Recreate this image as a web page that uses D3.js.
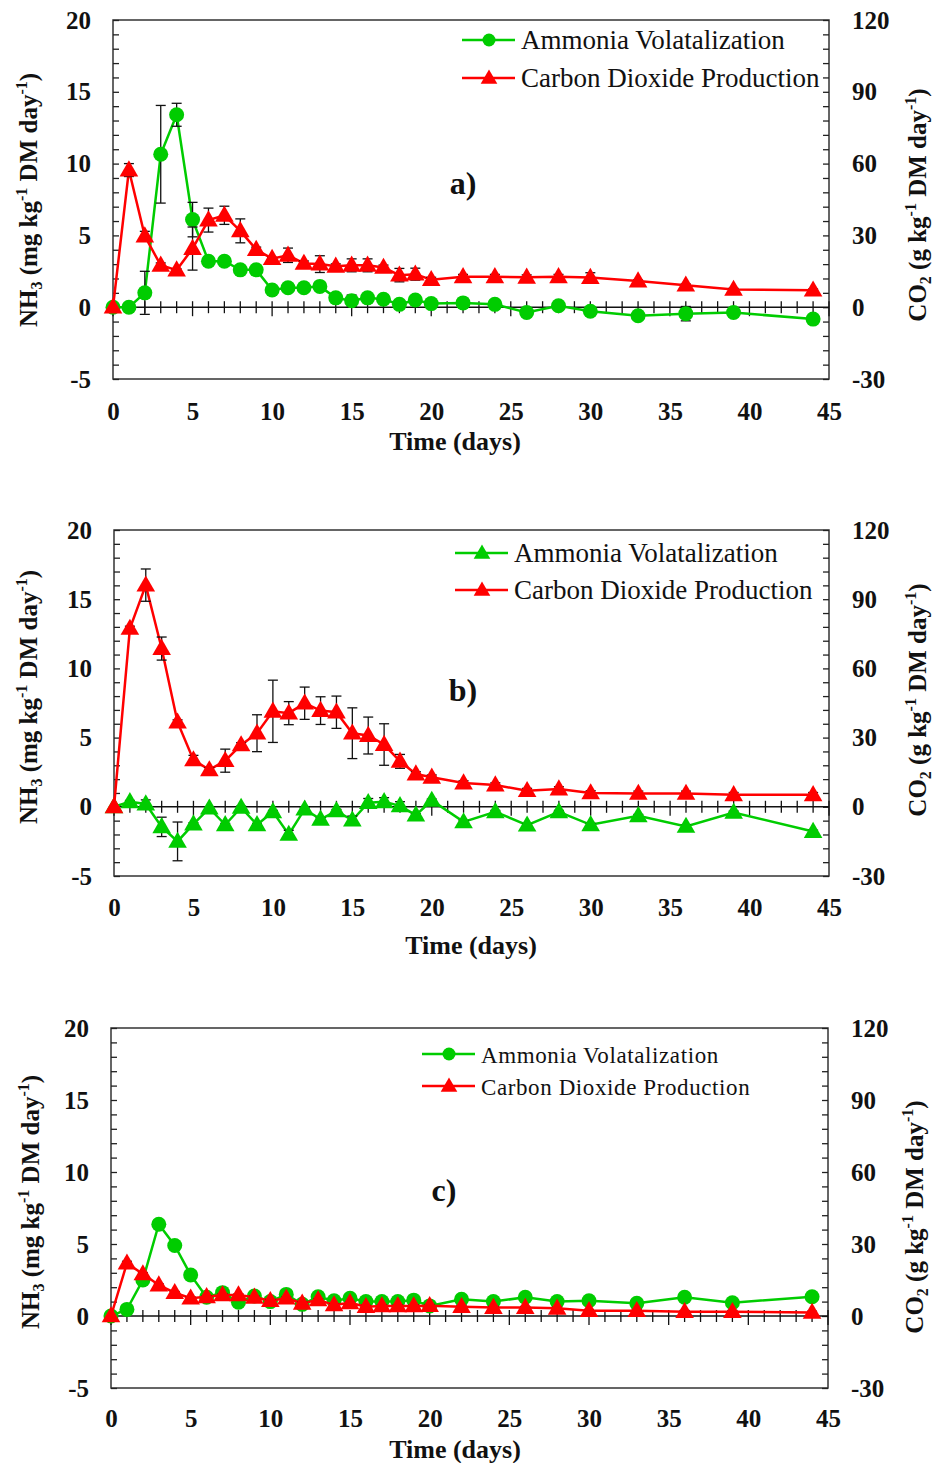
<!DOCTYPE html>
<html><head><meta charset="utf-8">
<script src="https://cdn.jsdelivr.net/npm/d3@7"></script>
<style>
body{margin:0;background:#fff;}
svg text{font-family:"Liberation Serif","Times New Roman",serif;}
</style></head>
<body><svg id="chart" width="936" height="1463"></svg>
<script>
const days = [0,1,2,3,4,5,6,7,8,9,10,11,12,13,14,15,16,17,18,19,20,22,24,26,28,30,33,36,39,44];
const xTicks = [0,5,10,15,20,25,30,35,40,45];
const leftTicks = [-5,0,5,10,15,20];
const rightTicks = [-30,0,30,60,90,120];

const aNH3 = [0,0,1.0,10.65,13.4,6.1,3.2,3.2,2.6,2.6,1.2,1.35,1.35,1.45,0.65,0.45,0.65,0.55,0.2,0.5,0.25,0.3,0.2,-0.37,0.1,-0.28,-0.6,-0.45,-0.37,-0.83];
const aNH3Err = [0,0,1.5,3.4,0.8,1.2,0.2,0.1,0.1,0.1,0.1,0.3,0.3,0.2,0.1,0.4,0.1,0.1,0.1,0.3,0.1,0.1,0.1,0.1,0.1,0.1,0.1,0.5,0.1,0.1];
const aCO2 = [0,57.3,29.7,17.5,15.5,24.5,36.4,38.4,31.9,24.1,20.3,21.7,18.3,18,17.1,17.5,17.5,16.6,13.4,13.8,11.5,12.7,12.7,12.5,12.7,12.4,10.9,9.2,7.4,7.1];
const aCO2Err = [0,2.7,2,1,0.5,9,5,3.8,5,1,0.5,3,1,3.5,1,2.7,2.7,1,2.8,2.5,1,1,1,1,1,2,0.5,0.5,0.5,0.5];

const bNH3 = [0,0.36,0.2,-1.45,-2.5,-1.25,-0.1,-1.3,-0.05,-1.3,-0.36,-2.0,-0.17,-0.9,-0.29,-0.97,0.3,0.36,0.07,-0.6,0.46,-1.09,-0.36,-1.33,-0.36,-1.3,-0.65,-1.42,-0.41,-1.79];
const bNH3Err = [0,0.1,0.3,0.7,1.4,0.1,0.1,0.1,0.1,0.1,0.1,0.3,0.1,0.1,0.1,0.3,0.3,0.3,0.3,0.1,0.1,0.1,0.1,0.1,0.1,0.1,0.1,0.1,0.1,0.1];
const bCO2 = [0,77.3,96.1,68.6,36.7,20.3,16,20,26.8,31.9,41.4,40.6,44.9,41.7,41,31.9,30.9,27,19.7,14.2,12.8,10.3,9.4,7,7.7,6,5.8,5.8,5.2,5.2];
const bCO2Err = [0,1,7,5,1,2,1,5,1,8,13.5,5,7,6,7,11,8,9,3,1,1,1,1,1,1,1,1,1,1,1];

const cNH3 = [0,0.46,2.5,6.37,4.9,2.85,1.3,1.62,0.95,1.39,1.0,1.5,0.81,1.34,1.06,1.23,1.0,1.0,1.0,1.1,0.7,1.16,1.0,1.3,1.0,1.06,0.88,1.3,0.92,1.34];
const cNH3Err = [0,0.1,0.1,0.3,0.1,0.1,0.1,0.1,0.1,0.1,0.1,0.1,0.1,0.1,0.1,0.1,0.1,0.1,0.1,0.1,0.1,0.1,0.1,0.1,0.1,0.1,0.1,0.1,0.1,0.1];
const cCO2 = [0,22,17.5,12.9,9.7,7.4,8.0,8.75,8.75,7.8,6.4,7.4,5.3,6.7,4.6,5.5,3.9,4.2,4.2,4.2,4.3,3.9,3.5,3.5,3.2,2.2,2.2,1.8,1.8,1.5];
const cCO2Err = [0,0.8,0.6,0.5,0.5,0.5,0.5,0.5,0.5,0.5,0.5,0.5,0.5,0.5,0.5,0.5,0.5,0.5,0.5,0.5,0.5,0.5,0.5,0.5,0.5,0.5,0.5,0.5,0.5,0.5];

const legendNames = ["Ammonia Volatalization","Carbon Dioxide Production"];
const GREEN = "#00cc00", RED = "#ff0000";

const svg = d3.select("#chart");

const panels = [
  {label:"a)", nh3:aNH3, nh3e:aNH3Err, co2:aCO2, co2e:aCO2Err, nh3Shape:"circle",
   L:113,R:829,T:20,B:379, labX:463, labY:183, legX:462, legY:[40,78], legFont:27, legLS:0,
   titleX:455, xlabDy:32, timeDy:62, leftTitleY:200, rightTitleY:205, leftTitleX:28, rightTitleX:920},
  {label:"b)", nh3:bNH3, nh3e:bNH3Err, co2:bCO2, co2e:bCO2Err, nh3Shape:"triangle",
   L:114,R:829,T:530,B:876, labX:463, labY:690, legX:455, legY:[553,590], legFont:27, legLS:0,
   titleX:471, xlabDy:31, timeDy:69, leftTitleY:697, rightTitleY:700, leftTitleX:28, rightTitleX:920},
  {label:"c)", nh3:cNH3, nh3e:cNH3Err, co2:cCO2, co2e:cCO2Err, nh3Shape:"circle",
   L:111,R:828,T:1028,B:1388, labX:444, labY:1190, legX:422, legY:[1054,1086], legFont:23, legLS:0.6,
   titleX:455, xlabDy:30, timeDy:61, leftTitleY:1202, rightTitleY:1217, leftTitleX:30, rightTitleX:917}
];

const triSym = d3.symbol().type(d3.symbolTriangle).size(150);
const triSymLeg = d3.symbol().type(d3.symbolTriangle).size(120);
const fmt = d => String(d);

function drawMarker(g, shape, x, y, color, r) {
  if (shape === "circle") {
    g.append("circle").attr("cx",x).attr("cy",y).attr("r",r||7.5).attr("fill",color);
  } else {
    g.append("path").attr("d", r ? triSymLeg() : triSym()).attr("transform",`translate(${x},${y+1})`).attr("fill",color);
  }
}

panels.forEach(p => {
  const g = svg.append("g");
  const x = d3.scaleLinear().domain([0,45]).range([p.L,p.R]);
  const yL = d3.scaleLinear().domain([-5,20]).range([p.B,p.T]);
  const yR = d3.scaleLinear().domain([-30,120]).range([p.B,p.T]);

  g.append("rect").attr("x",p.L).attr("y",p.T).attr("width",p.R-p.L).attr("height",p.B-p.T)
    .attr("fill","none").attr("stroke","#333").attr("stroke-width",1.5);

  const lt = g.append("g").attr("transform",`translate(${p.L},0)`)
    .call(d3.axisRight(yL).tickValues(d3.range(-5,21,1)).tickSize(6).tickFormat(""));
  lt.select(".domain").remove();
  lt.selectAll("line").attr("stroke","#222").attr("stroke-width",1.3);
  const ll = g.append("g").attr("transform",`translate(${p.L},0)`)
    .call(d3.axisLeft(yL).tickValues(leftTicks).tickSize(0).tickPadding(22).tickFormat(fmt));
  ll.select(".domain").remove();
  ll.selectAll("text").attr("font-size",25).attr("font-weight","bold").attr("fill","#111")
    .style("font-family",'"Liberation Serif","Times New Roman",serif');

  const rt = g.append("g").attr("transform",`translate(${p.R},0)`)
    .call(d3.axisLeft(yR).tickValues(d3.range(-30,121,6)).tickSize(6).tickFormat(""));
  rt.select(".domain").remove();
  rt.selectAll("line").attr("stroke","#222").attr("stroke-width",1.3);
  const rl = g.append("g").attr("transform",`translate(${p.R},0)`)
    .call(d3.axisRight(yR).tickValues(rightTicks).tickSize(0).tickPadding(23).tickFormat(fmt));
  rl.select(".domain").remove();
  rl.selectAll("text").attr("font-size",25).attr("font-weight","bold").attr("fill","#111")
    .style("font-family",'"Liberation Serif","Times New Roman",serif');

  const y0 = yL(0);
  g.append("line").attr("x1",p.L).attr("x2",p.R).attr("y1",y0).attr("y2",y0).attr("stroke","#111").attr("stroke-width",1.5);
  g.selectAll(".dt").data(d3.range(0,46,1)).join("line")
    .attr("x1",d=>x(d)).attr("x2",d=>x(d))
    .attr("y1",y0-6).attr("y2",d=> d%5===0 ? y0+9 : y0+6)
    .attr("stroke","#111").attr("stroke-width",1.3);

  const bl = g.append("g").attr("transform",`translate(0,${p.B})`)
    .call(d3.axisBottom(x).tickValues(xTicks).tickSize(0).tickPadding(p.xlabDy-9).tickFormat(fmt));
  bl.select(".domain").remove();
  bl.selectAll("text").attr("font-size",25).attr("font-weight","bold").attr("fill","#111")
    .style("font-family",'"Liberation Serif","Times New Roman",serif');

  g.append("text").attr("x",p.titleX).attr("y",p.B+p.timeDy+9).attr("text-anchor","middle")
    .attr("font-size",26).attr("font-weight","bold").attr("fill","#111").text("Time (days)");

  const lt2 = g.append("text").attr("transform",`translate(${p.leftTitleX+9},${p.leftTitleY}) rotate(-90)`)
    .attr("text-anchor","middle").attr("font-size",25).attr("font-weight","bold").attr("fill","#111");
  lt2.append("tspan").text("NH");
  lt2.append("tspan").attr("font-size",16).attr("dy",5).text("3");
  lt2.append("tspan").attr("dy",-5).text(" (mg kg");
  lt2.append("tspan").attr("font-size",16).attr("dy",-10).text("-1");
  lt2.append("tspan").attr("dy",10).text(" DM day");
  lt2.append("tspan").attr("font-size",16).attr("dy",-10).text("-1");
  lt2.append("tspan").attr("dy",10).text(")");

  const rt2 = g.append("text").attr("transform",`translate(${p.rightTitleX+6},${p.rightTitleY}) rotate(-90)`)
    .attr("text-anchor","middle").attr("font-size",25).attr("font-weight","bold").attr("fill","#111");
  rt2.append("tspan").text("CO");
  rt2.append("tspan").attr("font-size",16).attr("dy",5).text("2");
  rt2.append("tspan").attr("dy",-5).text(" (g kg");
  rt2.append("tspan").attr("font-size",16).attr("dy",-10).text("-1");
  rt2.append("tspan").attr("dy",10).text(" DM day");
  rt2.append("tspan").attr("font-size",16).attr("dy",-10).text("-1");
  rt2.append("tspan").attr("dy",10).text(")");

  g.append("text").attr("x",p.labX).attr("y",p.labY+11).attr("text-anchor","middle")
    .attr("font-size",32).attr("font-weight","bold").attr("fill","#111").text(p.label);

  const nh3Data = days.map((d,i)=>({d, v:p.nh3[i], e:p.nh3e[i]}));
  const co2Data = days.map((d,i)=>({d, v:p.co2[i], e:p.co2e[i]}));

  const lineN = d3.line().x(d=>x(d.d)).y(d=>yL(d.v));
  const lineC = d3.line().x(d=>x(d.d)).y(d=>yR(d.v));

  g.append("path").datum(nh3Data).attr("d",lineN).attr("fill","none").attr("stroke",GREEN).attr("stroke-width",2.5);
  const eN = g.append("g");
  nh3Data.filter(d=>d.e>0).forEach(d=>{
    const xx = x(d.d), y1 = yL(d.v+d.e), y2 = yL(d.v-d.e);
    eN.append("line").attr("x1",xx).attr("x2",xx).attr("y1",y1).attr("y2",y2).attr("stroke","#111").attr("stroke-width",1.3);
    eN.append("line").attr("x1",xx-5).attr("x2",xx+5).attr("y1",y1).attr("y2",y1).attr("stroke","#111").attr("stroke-width",1.3);
    eN.append("line").attr("x1",xx-5).attr("x2",xx+5).attr("y1",y2).attr("y2",y2).attr("stroke","#111").attr("stroke-width",1.3);
  });
  nh3Data.forEach(d=>drawMarker(g,p.nh3Shape,x(d.d),yL(d.v),GREEN));

  g.append("path").datum(co2Data).attr("d",lineC).attr("fill","none").attr("stroke",RED).attr("stroke-width",2.5);
  const eC = g.append("g");
  co2Data.filter(d=>d.e>0).forEach(d=>{
    const xx = x(d.d), y1 = yR(d.v+d.e), y2 = yR(d.v-d.e);
    eC.append("line").attr("x1",xx).attr("x2",xx).attr("y1",y1).attr("y2",y2).attr("stroke","#111").attr("stroke-width",1.3);
    eC.append("line").attr("x1",xx-5).attr("x2",xx+5).attr("y1",y1).attr("y2",y1).attr("stroke","#111").attr("stroke-width",1.3);
    eC.append("line").attr("x1",xx-5).attr("x2",xx+5).attr("y1",y2).attr("y2",y2).attr("stroke","#111").attr("stroke-width",1.3);
  });
  co2Data.forEach(d=>drawMarker(g,"triangle",x(d.d),yR(d.v),RED));

  const shapes = [p.nh3Shape,"triangle"], cols=[GREEN,RED];
  legendNames.forEach((name,i)=>{
    const yy = p.legY[i];
    g.append("line").attr("x1",p.legX).attr("x2",p.legX+53).attr("y1",yy).attr("y2",yy).attr("stroke",cols[i]).attr("stroke-width",2.5);
    drawMarker(g,shapes[i],p.legX+27,yy,cols[i],6.5);
    g.append("text").attr("x",p.legX+59).attr("y",yy+9).attr("font-size",p.legFont)
      .attr("letter-spacing",p.legLS).attr("fill","#111").text(name);
  });
});
</script></body></html>
